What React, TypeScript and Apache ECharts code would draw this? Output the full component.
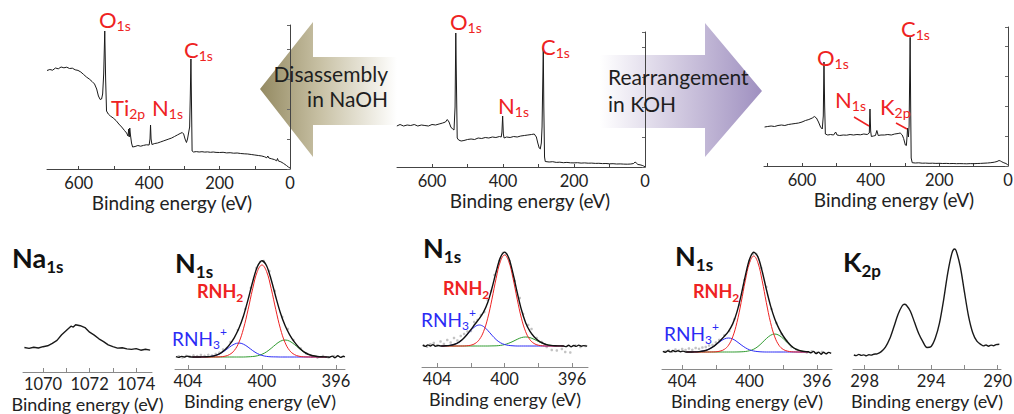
import React, { useEffect, useRef } from "react";
import * as echarts from "echarts";

const FONT = "Lato";
const RED = "#ee2222";
const BLUE = "#2b2bf5";
const GREEN = "#2f9a2f";
const INK = "#1a1a1a";

// ---------- survey spectra (binding energy eV, intensity a.u.) ----------
const SURVEY_NAOH: number[][] = [
  [690, 98.5], [682, 99.5], [674, 98.8], [666, 101], [658, 100.2], [650, 102], [642, 101.2], [634, 101.8],
  [626, 100.5], [618, 100.8], [610, 99.2], [602, 98.6], [594, 97], [586, 94.5], [578, 92], [570, 90],
  [562, 87.5], [555, 85], [549, 80], [544, 73], [539, 69.5], [535, 70], [532, 75], [529, 95], [526, 138],
  [523.5, 90], [521, 58], [516, 55], [510, 53], [502, 51], [494, 48.5], [486, 45], [478, 42], [470, 38.5],
  [464, 36], [460, 33], [458, 40], [456.5, 32], [455, 41], [453, 34], [450, 26], [447, 22], [440, 22.5],
  [432, 23.5], [424, 22.8], [416, 23.6], [408, 24.2], [400, 24], [397.5, 30], [396, 44], [394.5, 30],
  [392, 24.5], [384, 25.5], [376, 26], [368, 27], [360, 28], [352, 29], [344, 30], [336, 31], [328, 32.5],
  [320, 34], [312, 35.5], [306, 36.5], [302, 35], [298, 30], [294, 26.5], [291, 30], [288, 36], [285, 42],
  [283, 75], [281.3, 110], [279.5, 60], [278, 18], [274, 17], [266, 17.4], [258, 17], [250, 17.3],
  [242, 16.9], [234, 17.1], [226, 16.7], [218, 17], [210, 16.6], [200, 16.5], [190, 16.7], [180, 16.1],
  [170, 16.3], [160, 15.8], [150, 16], [140, 15.5], [130, 15.2], [120, 15], [110, 14.5], [100, 14],
  [90, 13.5], [80, 13], [72, 12.2], [66, 11.2], [63, 13], [60, 11], [52, 10.2], [44, 9.4], [38, 8.2],
  [35.5, 10.5], [33, 8], [26, 7.2], [18, 5.5], [10, 3.5], [4, 1.8], [0, 1],
];

const SURVEY_PRISTINE: number[][] = [
  [699, 41], [690, 42.5], [680, 41], [670, 42], [660, 41.5], [650, 42.5], [640, 41], [630, 42], [620, 41.5],
  [610, 41], [600, 42.5], [590, 42], [580, 43], [570, 44], [562, 45], [557, 47.5], [552, 45], [547, 40],
  [542, 38], [538, 37], [535, 60], [533, 134], [531, 80], [529, 29], [525, 27], [518, 26], [510, 26.5],
  [500, 27.5], [490, 28], [480, 27.5], [470, 29], [460, 28.5], [450, 29.5], [440, 29], [430, 30],
  [420, 29.5], [410, 30.5], [405, 30], [403, 35], [401, 51], [399, 33], [397, 29], [390, 30], [380, 29.5],
  [370, 30.5], [360, 30], [350, 31], [340, 31.5], [330, 32], [320, 32.5], [312, 33], [306, 30], [302, 24],
  [298, 19], [295, 18], [292, 24], [290, 40], [288, 85], [286.5, 119], [285, 60], [283, 10], [281, 5.5],
  [270, 5], [260, 5.3], [250, 4.6], [240, 4.8], [230, 4.3], [220, 4.6], [210, 4.2], [200, 4.1], [190, 4.3],
  [180, 3.9], [170, 4.1], [160, 3.8], [150, 3.9], [140, 3.6], [130, 3.7], [120, 3.4], [110, 3.5], [100, 3.2],
  [90, 3.3], [80, 3.0], [70, 3.1], [60, 2.9], [50, 2.8], [40, 3], [32, 3.5], [28, 5], [25, 4.2], [20, 2.5],
  [14, 2.2], [8, 1.6], [4, 1], [0, 0.3],
];

const SURVEY_KOH: number[][] = [
  [709, 39], [700, 39.5], [690, 40], [680, 39.5], [670, 40.5], [660, 41], [650, 40.5], [640, 41.5], [630, 42],
  [620, 42.5], [610, 43], [600, 44], [590, 45.5], [580, 46.5], [570, 48], [564, 49.5], [558, 48], [552, 44],
  [546, 39], [541, 37], [538, 50], [536, 104], [534, 60], [532, 32], [525, 31], [517, 31.5], [508, 31],
  [502, 34], [498, 31], [490, 30.5], [480, 31], [470, 30.8], [460, 31.5], [450, 31], [440, 31.5], [430, 31.2],
  [420, 32], [410, 31.5], [404, 33], [402, 57], [400, 35], [398, 29.5], [392, 30], [386, 30.5], [382, 35.5],
  [378, 30.5], [370, 31], [360, 31], [350, 31.5], [340, 31], [330, 32], [320, 32.5], [314, 33], [308, 31],
  [304, 27.5], [299, 21], [296, 20.5], [294, 30], [292.5, 38], [290, 29], [288, 40], [286, 100], [285, 128.7],
  [283.5, 60], [282, 8], [279, 3.3], [270, 3], [260, 3.2], [250, 2.8], [240, 2.9], [230, 2.7], [220, 2.8],
  [210, 2.6], [200, 2.7], [190, 2.5], [180, 2.6], [170, 2.4], [160, 2.5], [150, 2.3], [140, 2.4], [130, 2.3],
  [120, 2.2], [110, 2.4], [100, 2.3], [90, 2.5], [80, 2.6], [70, 2.8], [60, 3], [50, 3.3], [40, 3.8],
  [32, 4.5], [26, 5.5], [22, 5], [18, 4.2], [12, 3.2], [6, 2.5], [2, 1.5], [0, 1],
];

// ---------- Na 1s and K 2p ----------
const NA_1S: number[][] = [
  [1069.2, 24.5], [1069.4, 23.6], [1069.6, 24.8], [1069.8, 24.0], [1070.0, 25.3], [1070.2, 26.2], [1070.4, 28.7],
  [1070.6, 31.6], [1070.8, 37.2], [1071.0, 41.6], [1071.2, 45.8], [1071.3, 44.9], [1071.4, 47.2], [1071.6, 46.3],
  [1071.8, 44.4], [1072.0, 39.8], [1072.2, 36.9], [1072.4, 33.2], [1072.6, 30.4], [1072.8, 27.2], [1073.0, 25.4],
  [1073.2, 23.9], [1073.4, 24.3], [1073.6, 23.1], [1073.8, 22.6], [1074.0, 23.4], [1074.2, 21.8], [1074.4, 22.7],
  [1074.6, 21.9],
];

const K_2P: number[][] = [
  [298.65, 14], [298.5, 13.4], [298.35, 14.6], [298.2, 13.6], [298.05, 14.1], [297.9, 13.2], [297.75, 14.3],
  [297.6, 13.9], [297.45, 14.8], [297.25, 15.2], [297, 17.4], [296.75, 21.8], [296.5, 29.9], [296.25, 41.7],
  [296, 54.2], [295.75, 63.0], [295.6, 64.8], [295.5, 64.0], [295.25, 57.8], [295, 46.7], [294.75, 35.5],
  [294.5, 27.4], [294.25, 21.5], [294, 22.5], [293.75, 30.9], [293.5, 45.8], [293.25, 69.2], [293, 96.2],
  [292.75, 115.9], [292.6, 120], [292.5, 118.4], [292.25, 102.5], [292, 77.1], [291.75, 52.7], [291.5, 36.3],
  [291.25, 27.8], [291, 24.4], [290.85, 23.1], [290.7, 24.0], [290.55, 22.8], [290.4, 23.9], [290.25, 23.2],
  [290.1, 24.4], [289.9, 24.8],
];

// ---------- N 1s fits (shared energy grid) ----------
const FIT_E = [
  403.75, 403.5, 403.25, 403, 402.75, 402.5, 402.25, 402, 401.75, 401.5, 401.25, 401, 400.75, 400.5, 400.25,
  400, 399.75, 399.5, 399.25, 399, 398.75, 398.5, 398.25, 398, 397.75, 397.5, 397.25, 397, 396.75, 396.5,
];

// panel 1 (after NaOH)
const N1_RED = [12, 12, 12, 12, 12, 12.05, 12.2, 12.8, 14.5, 18.4, 26.4, 40.2, 59.3, 80.4, 97.5, 104, 97.5, 80.4, 59.3, 40.2, 26.4, 18.4, 14.5, 12.8, 12.2, 12.05, 12, 12, 12, 12];
const N1_BLUE = [12, 12, 12.1, 12.2, 12.6, 13.6, 15.5, 18.4, 21.9, 24.8, 26, 24.8, 21.9, 18.4, 15.5, 13.6, 12.6, 12.2, 12.1, 12, 12, 12, 12, 12, 12, 12, 12, 12, 12, 12];
const N1_GREEN = [12, 12, 12, 12, 12, 12, 12, 12, 12, 12, 12, 12, 12.2, 12.5, 13.2, 14.7, 17.2, 20.7, 24.6, 27.8, 29, 27.8, 24.6, 20.7, 17.2, 14.7, 13.2, 12.5, 12.2, 12.05];
const N1_ENV = [12, 12, 12.1, 12.2, 12.6, 13.7, 15.7, 19.2, 24.4, 31.2, 40.4, 53.0, 69.4, 87.3, 102.2, 108.3, 103.3, 89.3, 72.0, 56.0, 43.4, 34.2, 27.1, 21.5, 17.4, 14.75, 13.2, 12.5, 12.2, 12.05];
const N1_ENV_LEFT = [[404.65, 12.3], [404.5, 11.6], [404.35, 12.6], [404.2, 12.0], [404.05, 12.9], [403.9, 12.2]];
const N1_ENV_RIGHT = [[396.35, 11.8], [396.2, 12.9], [396.05, 11.3], [395.9, 13.2], [395.75, 11.6], [395.6, 12.8], [395.52, 12]];
const N1_RAW = [
  [404.5, 12.8], [404.3, 11.5], [404.1, 13.2], [403.9, 12.5], [403.7, 13.6], [403.5, 12.9], [403.3, 14], [403.1, 13.1],
  [402.9, 14.2], [402.7, 13.5], [402.5, 15], [402.3, 16.4], [402.1, 19.5], [401.9, 21], [401.7, 27], [401.3, 39],
  [400.9, 60], [400.6, 81], [400.3, 101], [400.1, 107], [399.9, 108], [399.6, 98], [399.3, 78], [398.9, 52],
  [398.6, 40], [398.3, 29], [397.9, 20.5], [397.6, 15.5], [397.3, 12.5], [397, 11.4], [396.7, 13], [396.4, 11.5], [396.1, 12.9],
];

// panel 2 (pristine)
const N2_RED = [21, 21, 21, 21, 21, 21, 21.2, 21.8, 23.5, 27.4, 35.3, 48.8, 67.8, 88.7, 105.5, 112, 105.5, 88.7, 67.8, 48.8, 35.3, 27.4, 23.5, 21.8, 21.2, 21, 21, 21, 21, 21];
const N2_BLUE = [21, 21.2, 21.6, 22.5, 24.3, 27.4, 31.8, 36.6, 40.5, 42, 40.5, 36.6, 31.8, 27.4, 24.3, 22.5, 21.6, 21.2, 21, 21, 21, 21, 21, 21, 21, 21, 21, 21, 21, 21];
const N2_GREEN = [21, 21, 21, 21, 21, 21, 21, 21, 21, 21, 21, 21, 21.1, 21.2, 21.6, 22.4, 23.8, 25.6, 27.7, 29.4, 30, 29.4, 27.7, 25.6, 23.8, 22.4, 21.6, 21.2, 21.1, 21];
const N2_ENV = [21, 21.2, 21.6, 22.5, 24.3, 27.4, 32.0, 37.4, 43.0, 48.4, 54.8, 64.4, 78.7, 95.3, 109.4, 114.9, 108.9, 93.5, 74.5, 57.2, 44.3, 35.8, 30.2, 26.4, 24.0, 22.4, 21.6, 21.2, 21.1, 21];
const N2_ENV_LEFT = [[404.85, 21.8], [404.7, 20.6], [404.55, 22.1], [404.4, 21.0], [404.25, 22.4], [404.1, 20.8], [403.95, 21.5]];
const N2_ENV_RIGHT = [[396.35, 20.4], [396.2, 21.8], [396.05, 20.2], [395.9, 21.5], [395.75, 20.6], [395.6, 21.9], [395.45, 20.7], [395.3, 21.4], [395.1, 20.9]];
const N2_RAW = [
  [404.8, 21.5], [404.6, 20.2], [404.4, 22.8], [404.2, 24], [404, 21.5], [403.8, 25.5], [403.6, 23], [403.4, 27],
  [403.2, 24.5], [403, 29], [402.8, 26.5], [402.6, 31], [402.4, 33], [402.2, 35.5], [402, 36], [401.8, 45],
  [401.6, 47], [401.4, 52], [401.2, 55], [401, 67], [400.8, 76], [400.6, 92], [400.3, 106], [400.1, 114],
  [399.9, 113], [399.7, 106], [399.4, 86], [399.1, 69], [398.9, 53], [398.6, 42], [398.4, 38], [398.1, 29],
  [397.8, 25], [397.5, 20], [397.2, 17], [396.9, 16.5], [396.6, 18], [396.4, 15], [396.1, 14.5], [395.8, 21.5],
  [395.5, 20], [395.2, 21],
];

// panel 3 (after KOH)
const N3_RED = [17, 17, 17, 17, 17, 17, 17.05, 17.2, 17.9, 19.6, 23.7, 32.1, 46.4, 66.3, 88.4, 106.2, 113, 106.2, 88.4, 66.3, 46.4, 32.1, 23.7, 19.6, 17.9, 17.2, 17.05, 17, 17, 17];
const N3_BLUE = [17, 17.05, 17.1, 17.4, 18.0, 19.2, 21.3, 24.2, 27.4, 30.0, 31, 30.0, 27.4, 24.2, 21.3, 19.2, 18.0, 17.4, 17.1, 17, 17, 17, 17, 17, 17, 17, 17, 17, 17, 17];
const N3_GREEN = [17, 17, 17, 17, 17, 17, 17, 17, 17, 17, 17, 17, 17.05, 17.2, 17.5, 18.3, 19.8, 22.5, 26.3, 30.4, 33.7, 35, 33.7, 30.4, 26.3, 22.5, 19.8, 18.3, 17.5, 17.2];
const N3_ENV = [17, 17.05, 17.1, 17.4, 18.0, 19.2, 21.35, 24.4, 28.3, 32.6, 37.7, 45.1, 56.9, 73.7, 93.2, 109.7, 116.8, 112.1, 97.8, 79.7, 63.1, 50.1, 40.4, 33.0, 27.2, 22.7, 19.85, 18.3, 17.5, 17.2];
const N3_ENV_LEFT = [[405.15, 17.6], [405, 16.8], [404.85, 18.2], [404.7, 17.1], [404.55, 18.5], [404.4, 17.4], [404.25, 18.3], [404.1, 17.2], [403.95, 17.9]];
const N3_ENV_RIGHT = [[396.35, 16.2], [396.2, 17.6], [396.05, 15.4], [395.9, 16.9], [395.75, 14.8], [395.6, 16.8], [395.45, 15.2], [395.3, 16.6], [395.15, 15.6]];
const N3_RAW = [
  [405.0, 17.5], [404.8, 18.8], [404.6, 17.2], [404.4, 19.5], [404.2, 18.5], [404, 20], [403.8, 19], [403.6, 20.5],
  [403.4, 19.2], [403.2, 21], [403, 20.2], [402.8, 21.5], [402.6, 22], [402.4, 23.5], [402.2, 24], [402, 26.5],
  [401.8, 29], [401.5, 33.5], [401.2, 38], [400.9, 50], [400.6, 64], [400.3, 89], [400, 108], [399.8, 115],
  [399.6, 115], [399.3, 101], [399, 82], [398.7, 60], [398.4, 46], [398.1, 35], [397.8, 28], [397.5, 22],
  [397.2, 19.5], [396.9, 17.5], [396.6, 16.5], [396.3, 17.8], [396, 16.2], [395.7, 17.2],
];

// ---------- axis tick values ----------
const SURVEY_LABELS = [0, 200, 400, 600];
const SURVEY_TICKS = [0, 100, 200, 300, 400, 500, 600, 700];
const NA_LABELS = [1070, 1072, 1074];
const NA_TICKS = [1070, 1071, 1072, 1073, 1074];
const N_LABELS = [396, 400, 404];
const N_TICKS = [396, 398, 400, 402, 404];
const K_LABELS = [290, 294, 298];
const K_TICKS = [290, 292, 294, 296, 298];

const AXIS_NAME = "Binding energy (eV)";

const mctx = typeof document !== "undefined" ? document.createElement("canvas").getContext("2d") : null;
function tw(t: string, s: number, w: string) {
  if (!mctx) return t.length * s * 0.55;
  mctx.font = `${w} ${s}px ${FONT}`;
  return mctx.measureText(t).width;
}
type Part = { t: string; s: number; w?: string; dy?: number; dx?: number };
function label(x: number, y: number, parts: Part[], color: string) {
  const els: any[] = [];
  let cx = x;
  parts.forEach((p) => {
    const w = p.w || "normal";
    const px = cx + (p.dx || 0);
    els.push({
      type: "text",
      x: px,
      y: y + (p.dy || 0),
      z: 100,
      style: {
        text: p.t, fill: color, fontSize: p.s, fontWeight: w, fontFamily: FONT,
        align: "left", textAlign: "left", verticalAlign: "middle", textVerticalAlign: "middle",
      },
    });
    cx = px + tw(p.t, p.s, w);
  });
  return els;
}
const red = (x: number, y: number, m: string, s: string) =>
  label(x, y, [{ t: m, s: 22 }, { t: s, s: 14, dy: 6.5 }], RED);
const title = (x: number, y: number, m: string, s: string) =>
  label(x, y, [{ t: m, s: 27, w: "bold" }, { t: s, s: 17, w: "bold", dy: 9.5 }], "#111");
const rnh2 = (x: number, y: number) =>
  label(x, y, [{ t: "RNH", s: 18, w: "bold" }, { t: "2", s: 12, w: "bold", dy: 6.5 }], RED);
const rnh3 = (x: number, y: number) =>
  label(x, y, [{ t: "RNH", s: 19 }, { t: "3", s: 12, dy: 6.5 }, { t: "+", s: 12, dy: -7 }], BLUE);

const pairs = (e: number[], v: number[]) => e.map((x, i) => [x, v[i]]);

export default function App() {
  const ref = useRef<HTMLDivElement>(null);
  useEffect(() => {
    const chart = echarts.init(ref.current!, null, { renderer: "svg" });

    const grids = [
      { left: 47, top: 25, width: 243, height: 144 },
      { left: 397, top: 32, width: 248, height: 135 },
      { left: 764, top: 27, width: 244, height: 139 },
      { left: 23, top: 240, width: 129, height: 132 },
      { left: 175, top: 245, width: 170, height: 124 },
      { left: 422, top: 240, width: 166, height: 127 },
      { left: 662, top: 245, width: 170, height: 124 },
      { left: 853, top: 245, width: 148, height: 124 },
    ];

    const nameStyle = (size: number, pad: number) => ({
      fontSize: size, lineHeight: size, color: "#222", fontFamily: FONT, padding: [0, 0, 0, pad],
    });
    const fmt = (v: number) => String(v);
    const topX = (gi: number, max: number, pad: number) => ({
      type: "value", gridIndex: gi, min: 0, max, inverse: true,
      axisLine: { show: true, lineStyle: { color: "#444", width: 1 } },
      axisTick: { show: true, inside: true, length: 3, customValues: SURVEY_TICKS.filter((v) => v <= max), lineStyle: { color: "#444" } },
      axisLabel: { customValues: SURVEY_LABELS, fontSize: 16.5, lineHeight: 15, color: "#222", fontFamily: FONT, margin: 6, formatter: fmt },
      splitLine: { show: false },
      name: AXIS_NAME, nameLocation: "middle", nameGap: 24, nameTextStyle: nameStyle(19, pad),
    });
    const botX = (gi: number, min: number, max: number, inverse: boolean, labels: number[], ticks: number[]) => ({
      type: "value", gridIndex: gi, min, max, inverse,
      axisLine: { show: true, lineStyle: { color: "#8a8a8a", width: 1 } },
      axisTick: { show: true, inside: true, length: 4, customValues: ticks, lineStyle: { color: "#8a8a8a" } },
      axisLabel: { customValues: labels, fontSize: 16.5, lineHeight: 16, color: "#222", fontFamily: FONT, margin: 4, formatter: fmt },
      splitLine: { show: false },
      name: AXIS_NAME, nameLocation: "middle", nameGap: 23, nameTextStyle: nameStyle(18, 0),
    });
    const topY = (gi: number, max: number) => ({
      type: "value", gridIndex: gi, min: 0, max, splitNumber: 4,
      axisLine: { show: true, lineStyle: { color: "#444", width: 1 } },
      axisTick: { show: true, inside: false, length: 3, lineStyle: { color: "#666" } },
      axisLabel: { show: false }, splitLine: { show: false },
    });
    const hidY = (gi: number, max: number) => ({
      type: "value", gridIndex: gi, min: 0, max, show: false, splitLine: { show: false },
    });

    const line = (i: number, data: number[][], color: string, width: number, smooth: number | boolean, z = 3) => ({
      type: "line", xAxisIndex: i, yAxisIndex: i, data, showSymbol: false, symbol: "none", smooth,
      lineStyle: { color, width }, z, silent: true,
    });
    const dots = (i: number, data: number[][]) => ({
      type: "scatter", xAxisIndex: i, yAxisIndex: i, data, symbolSize: 2.6,
      itemStyle: { color: "#b4b4b4" }, z: 1, silent: true,
    });
    const fitSet = (i: number, r: number[], b: number[], g: number[], env: number[], left: number[][], right: number[][], raw: number[][]) => [
      dots(i, raw),
      line(i, pairs(FIT_E, g), GREEN, 1, 0.4, 2),
      line(i, pairs(FIT_E, b), BLUE, 1, 0.4, 2),
      line(i, pairs(FIT_E, r), RED, 1, 0.4, 3),
      line(i, [...left, ...pairs(FIT_E, env), ...right], "#111", 1.4, 0.3, 4),
    ];

    const arrowL = [[260, 89], [313, 22], [313, 57], [397, 57], [397, 125], [313, 125], [313, 157]];
    const arrowR = [[600, 55], [705, 55], [705, 23], [762, 91], [705, 157], [705, 128], [600, 128]];
    const txt = (x: number, y: number, t: string, align: string) => ({
      type: "text", x, y, z: 50,
      style: {
        text: t, fill: "#1e1e1e", fontSize: 21, fontFamily: FONT,
        align, textAlign: align, verticalAlign: "middle", textVerticalAlign: "middle",
      },
    });

    const graphic: any[] = [
      {
        type: "polygon", z: 0, shape: { points: arrowL },
        style: {
          fill: { type: "linear", x: 0, y: 0, x2: 1, y2: 0, colorStops: [
            { offset: 0, color: "#948a62" }, { offset: 0.45, color: "#c9c2a6" }, { offset: 1, color: "#ffffff" } ] },
        },
      },
      {
        type: "polygon", z: 0, shape: { points: arrowR },
        style: {
          fill: { type: "linear", x: 0, y: 0, x2: 1, y2: 0, colorStops: [
            { offset: 0, color: "#ffffff" }, { offset: 0.55, color: "#cbc2dc" }, { offset: 1, color: "#9f90c0" } ] },
        },
      },
      txt(388, 73, "Disassembly", "right"),
      txt(388, 98, "in NaOH", "right"),
      txt(608, 76, "Rearrangement", "left"),
      txt(608, 103, "in KOH", "left"),
      ...red(99, 19, "O", "1s"),
      ...red(111, 107, "Ti", "2p"),
      ...red(152, 107, "N", "1s"),
      ...red(184, 49, "C", "1s"),
      ...red(450, 21, "O", "1s"),
      ...red(498, 105, "N", "1s"),
      ...red(541, 46, "C", "1s"),
      ...red(817, 57, "O", "1s"),
      ...red(901, 28, "C", "1s"),
      ...red(835, 99, "N", "1s"),
      ...red(880, 106, "K", "2p"),
      { type: "line", z: 60, shape: { x1: 854, y1: 117, x2: 869, y2: 126 }, style: { stroke: RED, lineWidth: 1.5 } },
      { type: "line", z: 60, shape: { x1: 896, y1: 123, x2: 907, y2: 129 }, style: { stroke: RED, lineWidth: 1.5 } },
      ...title(12, 257, "Na", "1s"),
      ...title(175, 262, "N", "1s"),
      ...title(423, 247, "N", "1s"),
      ...title(675, 255, "N", "1s"),
      ...title(843, 261, "K", "2p"),
      ...rnh2(197, 291),
      ...rnh2(443, 288),
      ...rnh2(693, 291),
      ...rnh3(172, 338),
      ...rnh3(421, 319),
      ...rnh3(664, 333),
    ];

    const option: any = {
      animation: false,
      backgroundColor: "#ffffff",
      textStyle: { fontFamily: FONT },
      grid: grids.map((g) => ({ ...g, containLabel: false, outerBoundsMode: "none" })),
      xAxis: [
        topX(0, 690, 7),
        topX(1, 698.6, 18),
        topX(2, 710.7, 16),
        botX(3, 1069.14, 1074.68, false, NA_LABELS, NA_TICKS),
        botX(4, 395.51, 404.7, true, N_LABELS, N_TICKS),
        botX(5, 395.05, 404.9, true, N_LABELS, N_TICKS),
        botX(6, 395.1, 405.2, true, N_LABELS, N_TICKS),
        botX(7, 289.8, 298.7, true, K_LABELS, K_TICKS),
      ],
      yAxis: [
        topY(0, 144), topY(1, 135), topY(2, 139),
        hidY(3, 132), hidY(4, 124), hidY(5, 127), hidY(6, 124), hidY(7, 124),
      ],
      series: [
        line(0, SURVEY_NAOH, INK, 1, false),
        line(1, SURVEY_PRISTINE, INK, 1, false),
        line(2, SURVEY_KOH, INK, 1, false),
        line(3, NA_1S, INK, 1.4, false),
        ...fitSet(4, N1_RED, N1_BLUE, N1_GREEN, N1_ENV, N1_ENV_LEFT, N1_ENV_RIGHT, N1_RAW),
        ...fitSet(5, N2_RED, N2_BLUE, N2_GREEN, N2_ENV, N2_ENV_LEFT, N2_ENV_RIGHT, N2_RAW),
        ...fitSet(6, N3_RED, N3_BLUE, N3_GREEN, N3_ENV, N3_ENV_LEFT, N3_ENV_RIGHT, N3_RAW),
        line(7, K_2P, INK, 1.4, 0.3),
      ],
      graphic: { elements: graphic },
    };
    chart.setOption(option);
    return () => chart.dispose();
  }, []);
  return (
    <div
      ref={ref}
      style={{ position: "fixed", left: 0, top: 0, width: 1014, height: 414, background: "#fff" }}
    />
  );
}
